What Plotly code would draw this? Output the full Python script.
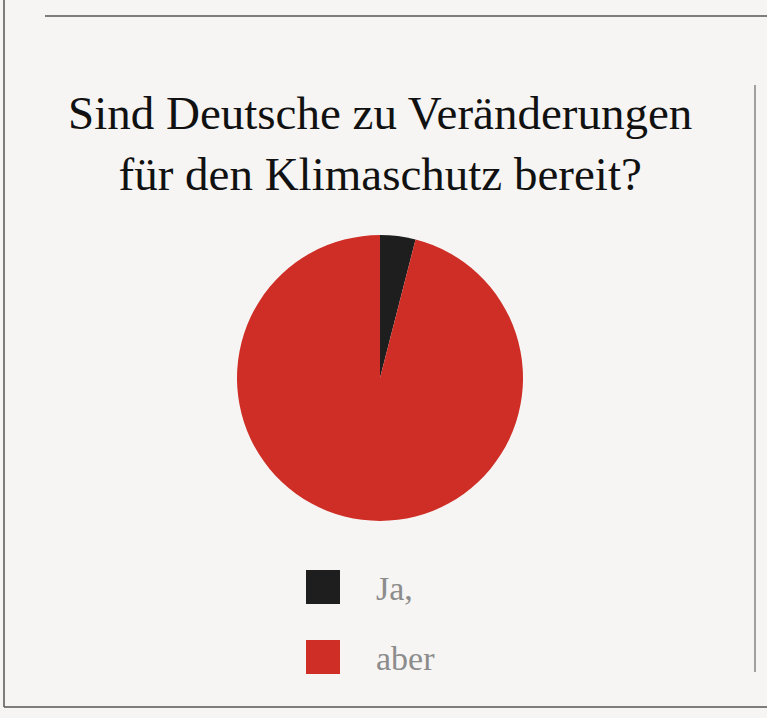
import plotly.graph_objects as go

categories = ["Ja,", "aber"]
values = [4, 96]
colors = ["#1e1e1e", "#cf2e27"]
title_lines = ["Sind Deutsche zu Veränderungen", "für den Klimaschutz bereit?"]

W, H = 767, 718
BG = "#f6f5f3"
FONT = "Liberation Serif, Times New Roman, serif"

def px(x):
    return x / W

def py(y):
    return 1 - y / H

cx, cy, r = 380, 378, 143

fig = go.Figure(go.Pie(
    labels=categories,
    values=values,
    marker=dict(colors=colors, line=dict(width=0)),
    sort=False,
    direction="clockwise",
    rotation=0,
    textinfo="none",
    hoverinfo="label+percent",
    showlegend=False,
    domain=dict(x=[px(cx - r), px(cx + r)], y=[py(cy + r), py(cy - r)]),
))

shapes = [
    dict(type="line", xref="paper", yref="paper", x0=px(4), x1=px(4), y0=py(0), y1=py(707),
         line=dict(color="#555555", width=1.5)),
    dict(type="line", xref="paper", yref="paper", x0=px(4), x1=px(767), y0=py(707), y1=py(707),
         line=dict(color="#555555", width=1.5)),
    dict(type="line", xref="paper", yref="paper", x0=px(45), x1=px(767), y0=py(16), y1=py(16),
         line=dict(color="#555555", width=1.5)),
    dict(type="line", xref="paper", yref="paper", x0=px(755), x1=px(755), y0=py(85), y1=py(672),
         line=dict(color="#a0a0a0", width=2)),
]

annotations = [
    dict(text="<br>".join(title_lines), x=px(380), y=py(143), xref="paper", yref="paper",
         xanchor="center", yanchor="middle", showarrow=False,
         font=dict(family=FONT, size=47, color="#111111")),
]

leg_top = 570
leg_step = 70
sq = 34
for i, (lab, col) in enumerate(zip(categories, colors)):
    y0 = leg_top + i * leg_step
    shapes.append(dict(type="rect", xref="paper", yref="paper",
                       x0=px(306), x1=px(306 + sq), y0=py(y0), y1=py(y0 + sq),
                       fillcolor=col, line=dict(width=0)))
    annotations.append(dict(text=lab, x=px(374), y=py(y0 + sq / 2 + 1), xref="paper", yref="paper",
                            xanchor="left", yanchor="middle", showarrow=False,
                            font=dict(family=FONT, size=34, color="#8c8c8c")))

fig.update_layout(
    width=W, height=H,
    margin=dict(l=0, r=0, t=0, b=0),
    paper_bgcolor=BG, plot_bgcolor=BG,
    shapes=shapes, annotations=annotations,
)

fig.write_html("out.html", config={"displayModeBar": False},
               post_script="document.body.style.margin='0';document.body.style.background='%s';" % BG)
